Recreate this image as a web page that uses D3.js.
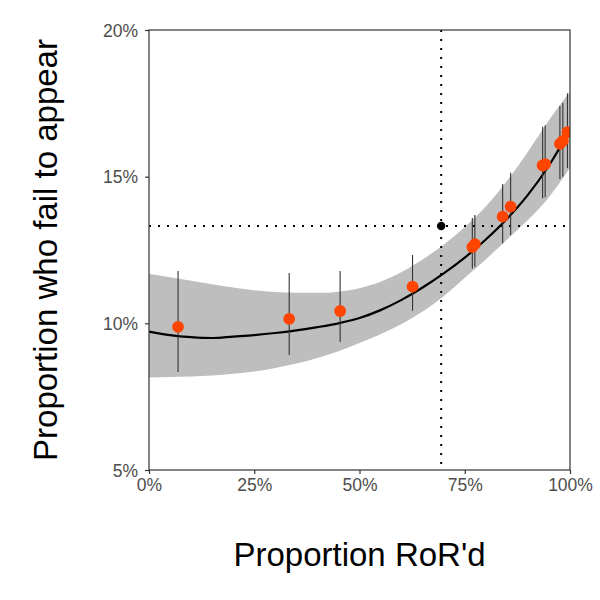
<!DOCTYPE html>
<html>
<head>
<meta charset="utf-8">
<script src="https://cdn.jsdelivr.net/npm/d3@7"></script>
<style>
  body { margin: 0; background: #fff; }
  svg { display: block; font-family: "Liberation Sans", Arial, sans-serif; }
</style>
</head>
<body>
<div id="chart"></div>
<script>
// smoothed fit and its ribbon (x in %, y in %)
const fitX = [0, 5, 10, 15, 20, 25, 30, 35, 40, 45, 50, 55, 60, 65, 70, 75, 80, 85, 90, 95, 100];
const fitY = [9.72, 9.6, 9.53, 9.5, 9.55, 9.6, 9.67, 9.76, 9.87, 10.0, 10.18, 10.45, 10.8, 11.22, 11.7, 12.24, 12.86, 13.56, 14.38, 15.38, 16.6];
const bandLow = [8.15, 8.17, 8.19, 8.22, 8.28, 8.36, 8.48, 8.63, 8.82, 9.05, 9.33, 9.63, 9.98, 10.4, 10.92, 11.55, 12.18, 12.85, 13.52, 14.3, 15.3];
const bandHigh = [11.68, 11.57, 11.45, 11.33, 11.22, 11.13, 11.07, 11.04, 11.04, 11.08, 11.2, 11.42, 11.75, 12.18, 12.68, 13.28, 13.98, 14.85, 15.85, 16.92, 17.9];

// observed groups with intervals
const ptX = [6.9, 33.3, 45.4, 62.6, 76.8, 77.4, 84.0, 85.9, 93.5, 94.1, 97.6, 98.3, 99.4];
const ptY = [9.88, 10.15, 10.42, 11.25, 12.6, 12.7, 13.64, 13.98, 15.38, 15.43, 16.12, 16.22, 16.52];
const ptLow = [8.34, 8.92, 9.36, 10.43, 11.87, 11.93, 12.73, 13.01, 14.26, 14.3, 14.92, 15.0, 15.29];
const ptHigh = [11.78, 11.72, 11.78, 12.33, 13.59, 13.69, 14.75, 15.13, 16.7, 16.75, 17.41, 17.52, 17.84];

// reference point
const refX = 69.4;
const refY = 13.32;

const xTicks = [0, 25, 50, 75, 100];
const yTicks = [5, 10, 15, 20];

const margin = { top: 30, right: 30, bottom: 130, left: 149 };
const width = 600 - margin.left - margin.right;
const height = 600 - margin.top - margin.bottom;

const svg = d3.select('#chart').append('svg')
  .attr('width', 600)
  .attr('height', 600);

const g = svg.append('g')
  .attr('transform', 'translate(' + margin.left + ',' + margin.top + ')');

const x = d3.scaleLinear().domain([0, 100]).range([0, width]);
const y = d3.scaleLinear().domain([5, 20]).range([height, 0]);

svg.append('defs').append('clipPath').attr('id', 'panel')
  .append('rect').attr('width', width).attr('height', height);

const plot = g.append('g').attr('clip-path', 'url(#panel)');

const fit = fitX.map((v, i) => ({ x: v, y: fitY[i], lo: bandLow[i], hi: bandHigh[i] }));

plot.append('path')
  .datum(fit)
  .attr('fill', '#bebebe')
  .attr('d', d3.area()
    .x(d => x(d.x))
    .y0(d => y(d.lo))
    .y1(d => y(d.hi))
    .curve(d3.curveMonotoneX));

// dotted reference lines
plot.append('line')
  .attr('x1', x(refX)).attr('x2', x(refX))
  .attr('y1', 0).attr('y2', height)
  .attr('stroke', '#000').attr('stroke-width', 2)
  .attr('stroke-dasharray', '2,7');
plot.append('line')
  .attr('x1', 0).attr('x2', width)
  .attr('y1', y(refY)).attr('y2', y(refY))
  .attr('stroke', '#000').attr('stroke-width', 2)
  .attr('stroke-dasharray', '2,7');

plot.append('path')
  .datum(fit)
  .attr('fill', 'none')
  .attr('stroke', '#000')
  .attr('stroke-width', 2.2)
  .attr('d', d3.line()
    .x(d => x(d.x))
    .y(d => y(d.y))
    .curve(d3.curveMonotoneX));

const pts = ptX.map((v, i) => ({ x: v, y: ptY[i], lo: ptLow[i], hi: ptHigh[i] }));

plot.selectAll('.err')
  .data(pts)
  .join('line')
  .attr('class', 'err')
  .attr('x1', d => x(d.x)).attr('x2', d => x(d.x))
  .attr('y1', d => y(d.lo)).attr('y2', d => y(d.hi))
  .attr('stroke', '#333')
  .attr('stroke-width', 1.1);

plot.selectAll('.pt')
  .data(pts)
  .join('circle')
  .attr('class', 'pt')
  .attr('cx', d => x(d.x))
  .attr('cy', d => y(d.y))
  .attr('r', 5.9)
  .attr('fill', '#ff4500');

plot.append('circle')
  .attr('cx', x(refX))
  .attr('cy', y(refY))
  .attr('r', 4.2)
  .attr('fill', '#000');

// panel border
g.append('rect')
  .attr('width', width)
  .attr('height', height)
  .attr('fill', 'none')
  .attr('stroke', '#333')
  .attr('stroke-width', 1.2);

const xAxis = g.append('g')
  .attr('transform', `translate(0, ${height})`)
  .call(d3.axisBottom(x).tickValues(xTicks).tickFormat(d => d + '%').tickSize(4).tickPadding(5));
const yAxis = g.append('g')
  .call(d3.axisLeft(y).tickValues(yTicks).tickFormat(d => d + '%').tickSize(4).tickPadding(7));

[xAxis, yAxis].forEach(a => {
  a.select('.domain').remove();
  a.selectAll('line').attr('stroke', '#333').attr('stroke-width', 1.2);
  a.selectAll('text')
    .attr('fill', '#4d4d4d')
    .style('font-size', '17.5px')
    .style('font-family', '"Liberation Sans", Arial, sans-serif');
});
yAxis.selectAll('text').attr('dy', '0.36em');

svg.append('text')
  .attr('x', margin.left + width / 2)
  .attr('y', 566)
  .attr('text-anchor', 'middle')
  .style('font-size', '33px')
  .attr('fill', '#000')
  .text("Proportion RoR'd");

svg.append('text')
  .attr('transform', 'translate(57,' + (margin.top + height / 2) + ') rotate(-90)')
  .attr('text-anchor', 'middle')
  .style('font-size', '33px')
  .attr('fill', '#000')
  .text('Proportion who fail to appear');
</script>
</body>
</html>
